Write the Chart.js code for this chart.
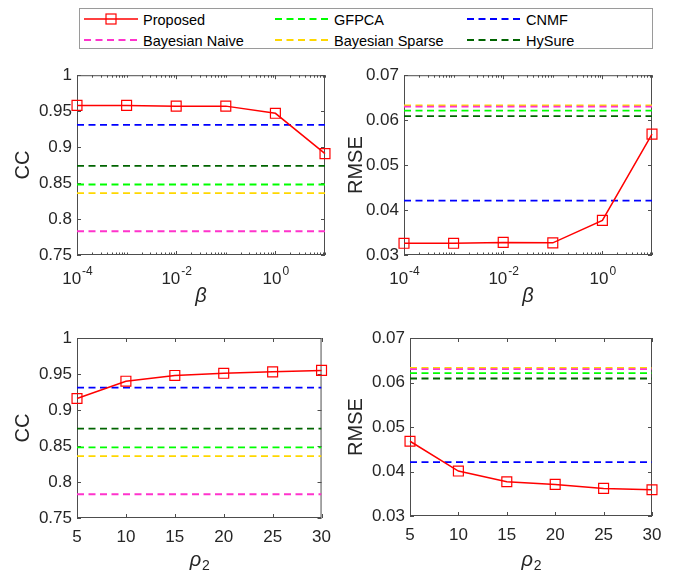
<!DOCTYPE html>
<html>
<head>
<meta charset="utf-8">
<script src="https://cdn.jsdelivr.net/npm/chart.js@4/dist/chart.umd.min.js"></script>
<style>
  body { margin: 0; background: #fff; width: 674px; height: 575px; position: relative; overflow: hidden;
         font-family: "Liberation Sans", Arial, sans-serif; }
  .pane { position: absolute; }
  .pane canvas { display: block; }
  #legend { position: absolute; left: 79px; top: 8px; width: 574px; height: 41px;
            border: 1px solid #9a9a9a; box-sizing: border-box; background: #fff; }
  .item { position: absolute; font-size: 14.5px; color: #000; white-space: nowrap; line-height: 18px; }
</style>
</head>
<body>
<div id="legend"></div>
<div class="pane" id="p1"><canvas id="c1"></canvas></div>
<div class="pane" id="p2"><canvas id="c2"></canvas></div>
<div class="pane" id="p3"><canvas id="c3"></canvas></div>
<div class="pane" id="p4"><canvas id="c4"></canvas></div>
<script>
// values
const betaValues = [1e-4, 1e-3, 1e-2, 1e-1, 1, 10];
const rhoValues = [5, 10, 15, 20, 25, 30];

const ccBeta   = [0.958, 0.958, 0.957, 0.957, 0.947, 0.891];
const rmseBeta = [0.0326, 0.0326, 0.0328, 0.0327, 0.0377, 0.0569];
const ccRho    = [0.916, 0.940, 0.948, 0.951, 0.953, 0.955];
const rmseRho  = [0.0468, 0.0401, 0.0377, 0.0371, 0.0362, 0.0359];

const methods      = ['GFPCA', 'CNMF', 'Bayesian Naive', 'Bayesian Sparse', 'HySure'];
const methodColors = ['#00ff00', '#0000ff', '#ff33cc', '#ffd700', '#006400'];
const ccBaseline   = [0.848, 0.931, 0.783, 0.836, 0.874];
const rmseBaseline = [0.0621, 0.0421, 0.0630, 0.0633, 0.0609];

const ccTicks   = [0.75, 0.8, 0.85, 0.9, 0.95, 1];
const rmseTicks = [0.03, 0.04, 0.05, 0.06, 0.07];
const betaTicks = [1e-4, 1e-2, 1];
const betaTickLabels = ['10^-4', '10^-2', '10^0'];
const rhoTicks  = [5, 10, 15, 20, 25, 30];

const FONT = '"Liberation Sans", Arial, sans-serif';
const AXIS = '#262626';
const DASH = [7, 4.5];
const TICK_SIZE = 17;

// minor ticks on the log axis (2..9 per decade + unlabeled decades)
const betaMinor = [];
for (let e = -4; e <= 1; e++) {
  for (let k = 1; k <= 9; k++) {
    if (k === 1 && e % 2 === 0) continue;
    const v = k * Math.pow(10, e);
    if (v <= 10.0001) betaMinor.push(v);
  }
}

// legend (HTML, 3 columns x 2 rows)
const legendNames = ['Proposed'].concat(methods);
const legendColors = ['#ff0000'].concat(methodColors);
const colX = [83, 274, 466];
const rowY = [19, 40];
const lg = document.getElementById('legend');
legendNames.forEach((name, i) => {
  const cx = colX[i % 3] - 79, cy = rowY[Math.floor(i / 3)] - 8;
  const svg = document.createElementNS('http://www.w3.org/2000/svg', 'svg');
  svg.setAttribute('width', 56); svg.setAttribute('height', 14);
  svg.style.position = 'absolute';
  svg.style.left = cx + 'px'; svg.style.top = (cy - 8) + 'px';
  const ln = document.createElementNS('http://www.w3.org/2000/svg', 'line');
  ln.setAttribute('x1', 0); ln.setAttribute('x2', 54); ln.setAttribute('y1', 7); ln.setAttribute('y2', 7);
  ln.setAttribute('stroke', legendColors[i]);
  if (i === 0) {
    ln.setAttribute('stroke-width', 1.5);
    svg.appendChild(ln);
    const r = document.createElementNS('http://www.w3.org/2000/svg', 'rect');
    r.setAttribute('x', 22); r.setAttribute('y', 2); r.setAttribute('width', 10); r.setAttribute('height', 10);
    r.setAttribute('fill', 'none'); r.setAttribute('stroke', '#ff0000'); r.setAttribute('stroke-width', 1.2);
    svg.appendChild(r);
  } else {
    ln.setAttribute('stroke-width', 1.8);
    ln.setAttribute('stroke-dasharray', DASH.join(' '));
    svg.appendChild(ln);
  }
  lg.appendChild(svg);
  const t = document.createElement('div');
  t.className = 'item';
  t.textContent = name;
  t.style.left = (cx + 59) + 'px';
  t.style.top = (cy - 9) + 'px';
  lg.appendChild(t);
});

// text with a raised (^) or lowered (_) part, centred on x
function drawRich(ctx, str, x, y, baseFont, scriptFont, shift) {
  const sup = str.indexOf('^') >= 0;
  const parts = str.split(sup ? '^' : '_');
  const base = parts[0], script = parts[1] || '';
  ctx.font = baseFont;
  const wb = ctx.measureText(base).width;
  ctx.font = scriptFont;
  const ws = ctx.measureText(script).width;
  const x0 = x - (wb + ws) / 2;
  ctx.textAlign = 'left';
  ctx.textBaseline = 'middle';
  ctx.font = baseFont;
  ctx.fillText(base, x0, y);
  ctx.font = scriptFont;
  ctx.fillText(script, x0 + wb + 1, y + (sup ? -shift : shift));
}

// MATLAB-like box with inward ticks
const boxPlugin = {
  id: 'box',
  beforeDatasetsDraw(chart, args, opts) {
    const {ctx, chartArea: a, scales} = chart;
    const xs = scales.x, ys = scales.y;
    ctx.save();
    ctx.strokeStyle = '#4d4d4d';
    ctx.lineWidth = 1;
    ctx.strokeRect(a.left + 0.5, a.top + 0.5, a.right - a.left - 1, a.bottom - a.top - 1);
    ctx.beginPath();
    const tx = (v, len) => {
      const p = Math.round(xs.getPixelForValue(v)) + 0.5;
      ctx.moveTo(p, a.bottom); ctx.lineTo(p, a.bottom - len);
      ctx.moveTo(p, a.top); ctx.lineTo(p, a.top + len);
    };
    xs.ticks.forEach(t => tx(t.value, 4));
    (opts.minor || []).forEach(v => tx(v, 2.5));
    ys.ticks.forEach(t => {
      const p = Math.round(ys.getPixelForValue(t.value)) + 0.5;
      ctx.moveTo(a.left, p); ctx.lineTo(a.left + 4, p);
      ctx.moveTo(a.right, p); ctx.lineTo(a.right - 4, p);
    });
    ctx.stroke();
    ctx.restore();
  },
  afterDraw(chart, args, opts) {
    const {ctx, chartArea: a, scales} = chart;
    ctx.save();
    ctx.fillStyle = AXIS;
    // x axis title, centred on the plot box
    drawRich(ctx, opts.xTitle, (a.left + a.right) / 2, opts.xTitleY,
             'italic 20px ' + FONT, '14px ' + FONT, 6);
    // superscript tick labels for the log axis
    if (opts.richLabels) {
      scales.x.ticks.forEach((t, i) => {
        drawRich(ctx, opts.richLabels[i], scales.x.getPixelForValue(t.value), a.bottom + opts.labelGap,
                 TICK_SIZE + 'px ' + FONT, '12px ' + FONT, 7);
      });
    }
    ctx.restore();
  }
};

function makePanel(n, frame, area, cfg) {
  const wrap = document.getElementById('p' + n);
  wrap.style.left = frame[0] + 'px';
  wrap.style.top = frame[1] + 'px';
  const canvas = document.getElementById('c' + n);
  canvas.width = frame[2];
  canvas.height = frame[3];

  const xs = cfg.x, lo = xs[0], hi = xs[xs.length - 1];
  const datasets = [{
    label: 'Proposed',
    data: xs.map((v, i) => ({x: v, y: cfg.proposed[i]})),
    borderColor: '#ff0000', borderWidth: 1.5,
    pointStyle: 'rect', pointRadius: 7, pointBorderWidth: 1.2,
    pointBorderColor: '#ff0000', pointBackgroundColor: 'rgba(255,0,0,0)',
    clip: false, order: 0
  }];
  methods.forEach((m, i) => {
    datasets.push({
      label: m,
      data: [{x: lo, y: cfg.baseline[i]}, {x: hi, y: cfg.baseline[i]}],
      borderColor: methodColors[i], borderWidth: 1.8, borderDash: DASH,
      pointRadius: 0, order: 1
    });
  });

  const yt = cfg.yTicks;
  const rich = cfg.xType === 'logarithmic';
  new Chart(canvas, {
    type: 'line',
    data: {datasets},
    options: {
      responsive: false,
      animation: false,
      events: [],
      layout: {padding: {left: 0, top: area[1] - frame[1], right: frame[0] + frame[2] - area[2], bottom: 0}},
      plugins: {
        legend: {display: false}, tooltip: {enabled: false},
        box: {minor: cfg.minor || [], xTitle: cfg.xTitle, xTitleY: cfg.xTitleY - frame[1],
              richLabels: rich ? cfg.xLabels : null, labelGap: cfg.labelGap}
      },
      scales: {
        x: {
          type: cfg.xType, min: lo, max: hi,
          grid: {display: false, drawTicks: false}, border: {display: false},
          afterBuildTicks: s => { s.ticks = cfg.xTicks.map(v => ({value: v})); },
          afterFit: s => { s.height = frame[1] + frame[3] - area[3]; },
          ticks: {display: !rich, autoSkip: false, maxRotation: 0, padding: cfg.labelGap - 10, color: AXIS,
                  font: {family: FONT, size: TICK_SIZE, lineHeight: 1.2},
                  callback: (v, i) => cfg.xLabels[i]}
        },
        y: {
          type: 'linear', min: yt[0], max: yt[yt.length - 1],
          grid: {display: false, drawTicks: false}, border: {display: false},
          afterBuildTicks: s => { s.ticks = yt.map(v => ({value: v})); },
          afterFit: s => { s.width = area[0] - frame[0]; },
          ticks: {padding: 5, color: AXIS, font: {family: FONT, size: TICK_SIZE, lineHeight: 1.2},
                  callback: v => String(v)},
          title: {display: true, text: cfg.yTitle, color: AXIS,
                  font: {family: FONT, size: 20, lineHeight: 1.2},
                  padding: {top: cfg.yTitlePad, bottom: 0}}
        }
      }
    },
    plugins: [boxPlugin]
  });
}

makePanel(1, [0, 60, 340, 250], [77, 75, 325, 255], {
  x: betaValues, xType: 'logarithmic', xTicks: betaTicks, xLabels: betaTickLabels, minor: betaMinor,
  xTitle: '\u03B2', xTitleY: 296, labelGap: 24,
  proposed: ccBeta, baseline: ccBaseline, yTicks: ccTicks, yTitle: 'CC', yTitlePad: 11
});
makePanel(2, [340, 60, 334, 250], [404, 75, 652, 255], {
  x: betaValues, xType: 'logarithmic', xTicks: betaTicks, xLabels: betaTickLabels, minor: betaMinor,
  xTitle: '\u03B2', xTitleY: 296, labelGap: 24,
  proposed: rmseBeta, baseline: rmseBaseline, yTicks: rmseTicks, yTitle: 'RMSE', yTitlePad: 4
});
makePanel(3, [0, 320, 340, 255], [77, 338, 325, 518], {
  x: rhoValues, xType: 'linear', xTicks: rhoTicks, xLabels: rhoTicks.map(String),
  xTitle: '\u03C1_2', xTitleY: 560, labelGap: 19,
  proposed: ccRho, baseline: ccBaseline, yTicks: ccTicks, yTitle: 'CC', yTitlePad: 11
});
makePanel(4, [340, 320, 334, 255], [410, 338, 652, 516], {
  x: rhoValues, xType: 'linear', xTicks: rhoTicks, xLabels: rhoTicks.map(String),
  xTitle: '\u03C1_2', xTitleY: 560, labelGap: 19,
  proposed: rmseRho, baseline: rmseBaseline, yTicks: rmseTicks, yTitle: 'RMSE', yTitlePad: 4
});
</script>
</body>
</html>
